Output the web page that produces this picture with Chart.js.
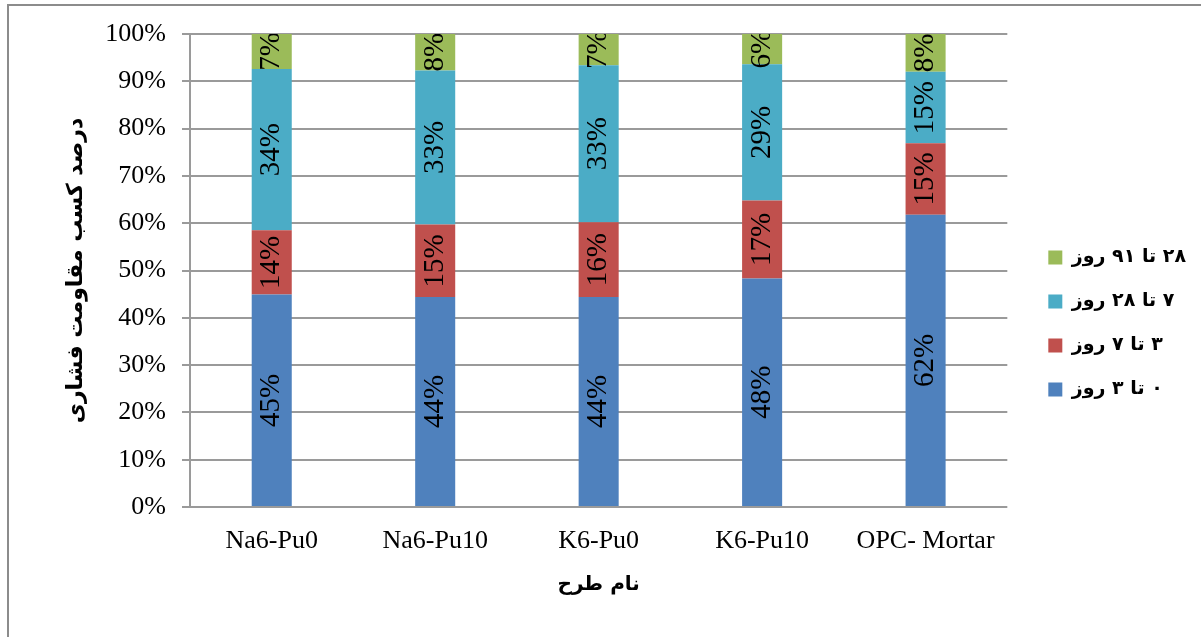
<!DOCTYPE html>
<html>
<head>
<meta charset="utf-8">
<script src="https://cdn.jsdelivr.net/npm/chart.js@4.4.0/dist/chart.umd.min.js"></script>
<style>
html,body{margin:0;padding:0;background:#fff}
#wrap{position:relative;width:1201px;height:637px;overflow:hidden}
#frame{position:absolute;left:7px;top:4px;width:1300px;height:700px;border-left:2px solid #8c8c8c;border-top:2px solid #8c8c8c}
canvas{position:absolute;left:0;top:0}
</style>
</head>
<body>
<div id="wrap"><div id="frame"></div><canvas id="c" width="1201" height="637"></canvas></div>
<script>
/* ================= DATA ================= */
const categories=['Na6-Pu0','Na6-Pu10','K6-Pu0','K6-Pu10','OPC- Mortar'];
const seriesNames=['۰ تا ۳ روز','۳ تا ۷ روز','۷ تا ۲۸ روز','۲۸ تا ۹۱ روز'];
const day0to3=[44.9,44.4,44.4,48.3,61.8];
const day3to7=[13.6,15.3,15.8,16.5,15.1];
const day7to28=[34.1,32.6,33.2,28.8,15.1];
const day28to91=[7.4,7.7,6.6,6.4,8.0];
const seriesColors=['#4F81BD','#C0504D','#4BACC6','#9BBB59'];
const yTitle='درصد کسب مقاومت فشاری';
const xTitle='نام طرح';

/* ================= LABELS IN BARS ================= */
const barLabels={
id:'barLabels',
afterDatasetsDraw(chart){
const {ctx,chartArea:a}=chart;
ctx.save();
ctx.beginPath();
ctx.rect(a.left,a.top,a.right-a.left,a.bottom-a.top);
ctx.clip();
ctx.font='29px "Liberation Serif"';
ctx.fillStyle='#000';
ctx.textAlign='center';
ctx.textBaseline='middle';
chart.data.datasets.forEach((ds,i)=>{
chart.getDatasetMeta(i).data.forEach((bar,j)=>{
let cy=(bar.y+bar.base)/2;
ctx.save();
ctx.translate(bar.x,cy);
ctx.rotate(-Math.PI/2);
ctx.fillText(Math.round(ds.data[j])+'%',0,0);
ctx.restore();
});
});
ctx.restore();
}
};

/* nudge legend to where the reference has it */
const legendShift={
id:'legendShift',
afterLayout(chart){
const l=chart.legend;
l.left+=16;l.right+=16;
l.top-=12;l.bottom-=12;
}
};

const serif={family:'"Liberation Serif"',size:26};

new Chart(document.getElementById('c'),{
type:'bar',
data:{
labels:categories,
datasets:[day0to3,day3to7,day7to28,day28to91].map((d,i)=>({
label:seriesNames[i],
data:d,
backgroundColor:seriesColors[i],
borderWidth:0,
categoryPercentage:1,
barPercentage:0.245
}))
},
options:{
responsive:false,
animation:false,
layout:{padding:{left:0,right:21,top:34,bottom:0}},
plugins:{
legend:{
position:'right',
reverse:true,
textDirection:'rtl',
labels:{boxWidth:14,boxHeight:14,padding:25,color:'#000',font:{family:'"DejaVu Sans"',size:19,weight:'bold'}}
},
tooltip:{enabled:false}
},
scales:{
x:{
stacked:true,
grid:{display:false,drawTicks:false},
border:{display:false},
ticks:{color:'#000',padding:19,font:serif},
title:{display:true,text:xTitle,color:'#000',font:{family:'"DejaVu Sans"',size:20,weight:'bold'},padding:{bottom:40}},
afterFit(s){s.height=130;}
},
y:{
stacked:true,
min:0,max:100,
ticks:{stepSize:10,callback:v=>v+'%',color:'#000',padding:16,font:serif},
grid:{color:'#9a9a9a',lineWidth:2,tickLength:8},
border:{color:'#9a9a9a',width:2},
title:{display:true,text:yTitle,color:'#000',font:{family:'"DejaVu Sans"',size:22,weight:'bold'},padding:{top:63}},
afterFit(s){s.width=190;}
}
}
},
plugins:[barLabels,legendShift]
});
</script>
</body>
</html>
